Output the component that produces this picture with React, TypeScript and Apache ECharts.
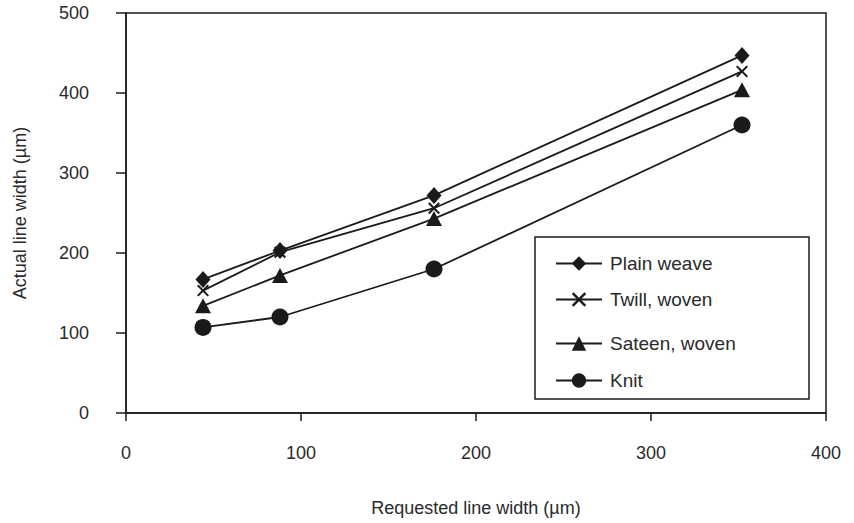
import React, { useEffect, useRef } from "react";
import * as echarts from "echarts";

const requested = [44, 88, 176, 352];
const plainWeave = [167, 203, 272, 447];
const twillWoven = [153, 201, 256, 427];
const sateenWoven = [134, 172, 243, 404];
const knit = [107, 120, 180, 360];
const seriesNames = ["Plain weave", "Twill, woven", "Sateen, woven", "Knit"];
const xTicks = [0, 100, 200, 300, 400];
const yTicks = [0, 100, 200, 300, 400, 500];

const FONT = "'Liberation Sans', Arial, sans-serif";
const INK = "#1a1a1a";
const TXT = "#2a2a2a";
const X_PATH =
  "path://M0,1.2 L1.2,0 L5,3.8 L8.8,0 L10,1.2 L6.2,5 L10,8.8 L8.8,10 L5,6.2 L1.2,10 L0,8.8 L3.8,5 Z";

export default function App() {
  const ref = useRef<HTMLDivElement>(null);
  useEffect(() => {
    if (!ref.current) return;
    const chart = echarts.init(ref.current, null, { renderer: "svg" });
    const pair = (ys: number[]) => requested.map((x, i) => [x, ys[i]]);
    const mk = (name: string, ys: number[], symbol: string, size: any) => ({
      name,
      type: "line",
      data: pair(ys),
      symbol,
      symbolSize: size,
      lineStyle: { color: INK, width: 1.8 },
      itemStyle: { color: INK },
      z: 3,
    });
    const legendTops = [254, 290, 334, 371];
    chart.setOption({
      animation: false,
      backgroundColor: "#fff",
      textStyle: { fontFamily: FONT },
      grid: {
        left: 126,
        right: 28,
        top: 13,
        bottom: 110,
        show: true,
        borderColor: INK,
        borderWidth: 1.5,
      },
      xAxis: {
        type: "value",
        min: xTicks[0],
        max: xTicks[xTicks.length - 1],
        interval: 100,
        name: "Requested line width (µm)",
        nameLocation: "middle",
        nameGap: 86,
        nameTextStyle: { fontSize: 18, color: TXT, fontFamily: FONT },
        axisLine: { lineStyle: { color: INK, width: 1.5 } },
        axisTick: { length: 8, lineStyle: { color: INK, width: 1.5 } },
        axisLabel: { fontSize: 18, color: TXT, margin: 31, fontFamily: FONT },
        splitLine: { show: false },
      },
      yAxis: {
        type: "value",
        min: yTicks[0],
        max: yTicks[yTicks.length - 1],
        interval: 100,
        name: "Actual line width (µm)",
        nameLocation: "middle",
        nameGap: 97,
        nameTextStyle: { fontSize: 18, color: TXT, fontFamily: FONT },
        axisLine: { lineStyle: { color: INK, width: 1.5 } },
        axisTick: { length: 10, lineStyle: { color: INK, width: 1.5 } },
        axisLabel: { fontSize: 18, color: TXT, margin: 37, fontFamily: FONT },
        splitLine: { show: false },
      },
      legend: seriesNames.map((n, i) => ({
        data: [n],
        left: 555,
        top: legendTops[i],
        padding: 0,
        itemWidth: 46,
        itemHeight: 18,
        itemGap: 0,
        textStyle: { fontSize: 19, color: TXT, fontFamily: FONT, padding: [4, 0, 0, 3] },
      })),
      graphic: [
        {
          type: "rect",
          shape: { x: 535, y: 237, width: 274, height: 162 },
          style: { fill: "none", stroke: INK, lineWidth: 1.5 },
          z: 10,
        },
      ],
      series: [
        mk(seriesNames[0], plainWeave, "diamond", [15, 17]),
        mk(seriesNames[1], twillWoven, X_PATH, 12),
        mk(seriesNames[2], sateenWoven, "triangle", [16, 15]),
        mk(seriesNames[3], knit, "circle", 17),
      ],
    });
    return () => chart.dispose();
  }, []);
  return <div ref={ref} style={{ width: 854, height: 523, position: "absolute", left: 0, top: 0 }} />;
}
